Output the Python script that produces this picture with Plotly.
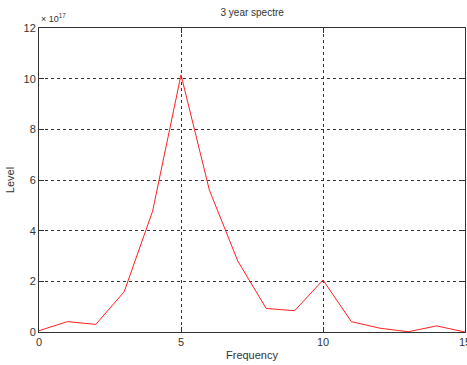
import plotly.graph_objects as go

frequency = list(range(16))
level_e17 = [0.05, 0.41, 0.3, 1.59, 4.77, 10.15, 5.6, 2.8, 0.93, 0.84, 2.05, 0.41, 0.15, 0.01, 0.24, 0.0]
x_ticks = [0, 5, 10, 15]
y_ticks = [0, 2, 4, 6, 8, 10, 12]

fig = go.Figure()
fig.add_trace(go.Scatter(x=frequency, y=level_e17, mode="lines",
                         line=dict(color="#ff2020", width=1), showlegend=False))

axis_common = dict(showline=True, linecolor="#333333", linewidth=1, mirror="ticks",
                   ticks="inside", ticklen=5, tickcolor="#333333",
                   showgrid=True, gridcolor="#333333", gridwidth=1, griddash="3px,3px",
                   zeroline=False, tickfont=dict(size=11, color="#333333"),
                   ticklabeloverflow="allow", automargin=False)

fig.update_xaxes(range=[0, 15], tickvals=x_ticks, title=dict(text="Frequency", font=dict(size=11, color="#333333"), standoff=4), **axis_common)
fig.update_yaxes(range=[0, 12], tickvals=y_ticks, title=dict(text="Level", font=dict(size=11, color="#333333"), standoff=6), **axis_common)

fig.update_layout(
    width=467, height=365,
    margin=dict(l=39, r=2, t=28, b=33),
    paper_bgcolor="white", plot_bgcolor="white",
    font=dict(family="Liberation Sans, Arial, sans-serif", size=11, color="#333333"),
    title=dict(text="3 year spectre", x=0.54, xanchor="center", y=0.975, yanchor="top",
               font=dict(size=10, color="#333333")),
    annotations=[dict(text="× 10<sup>17</sup>", xref="paper", yref="paper", x=0, y=1.005,
                      xanchor="left", yanchor="bottom", showarrow=False,
                      font=dict(size=9, color="#333333"))],
)

fig.write_html("out.html")
